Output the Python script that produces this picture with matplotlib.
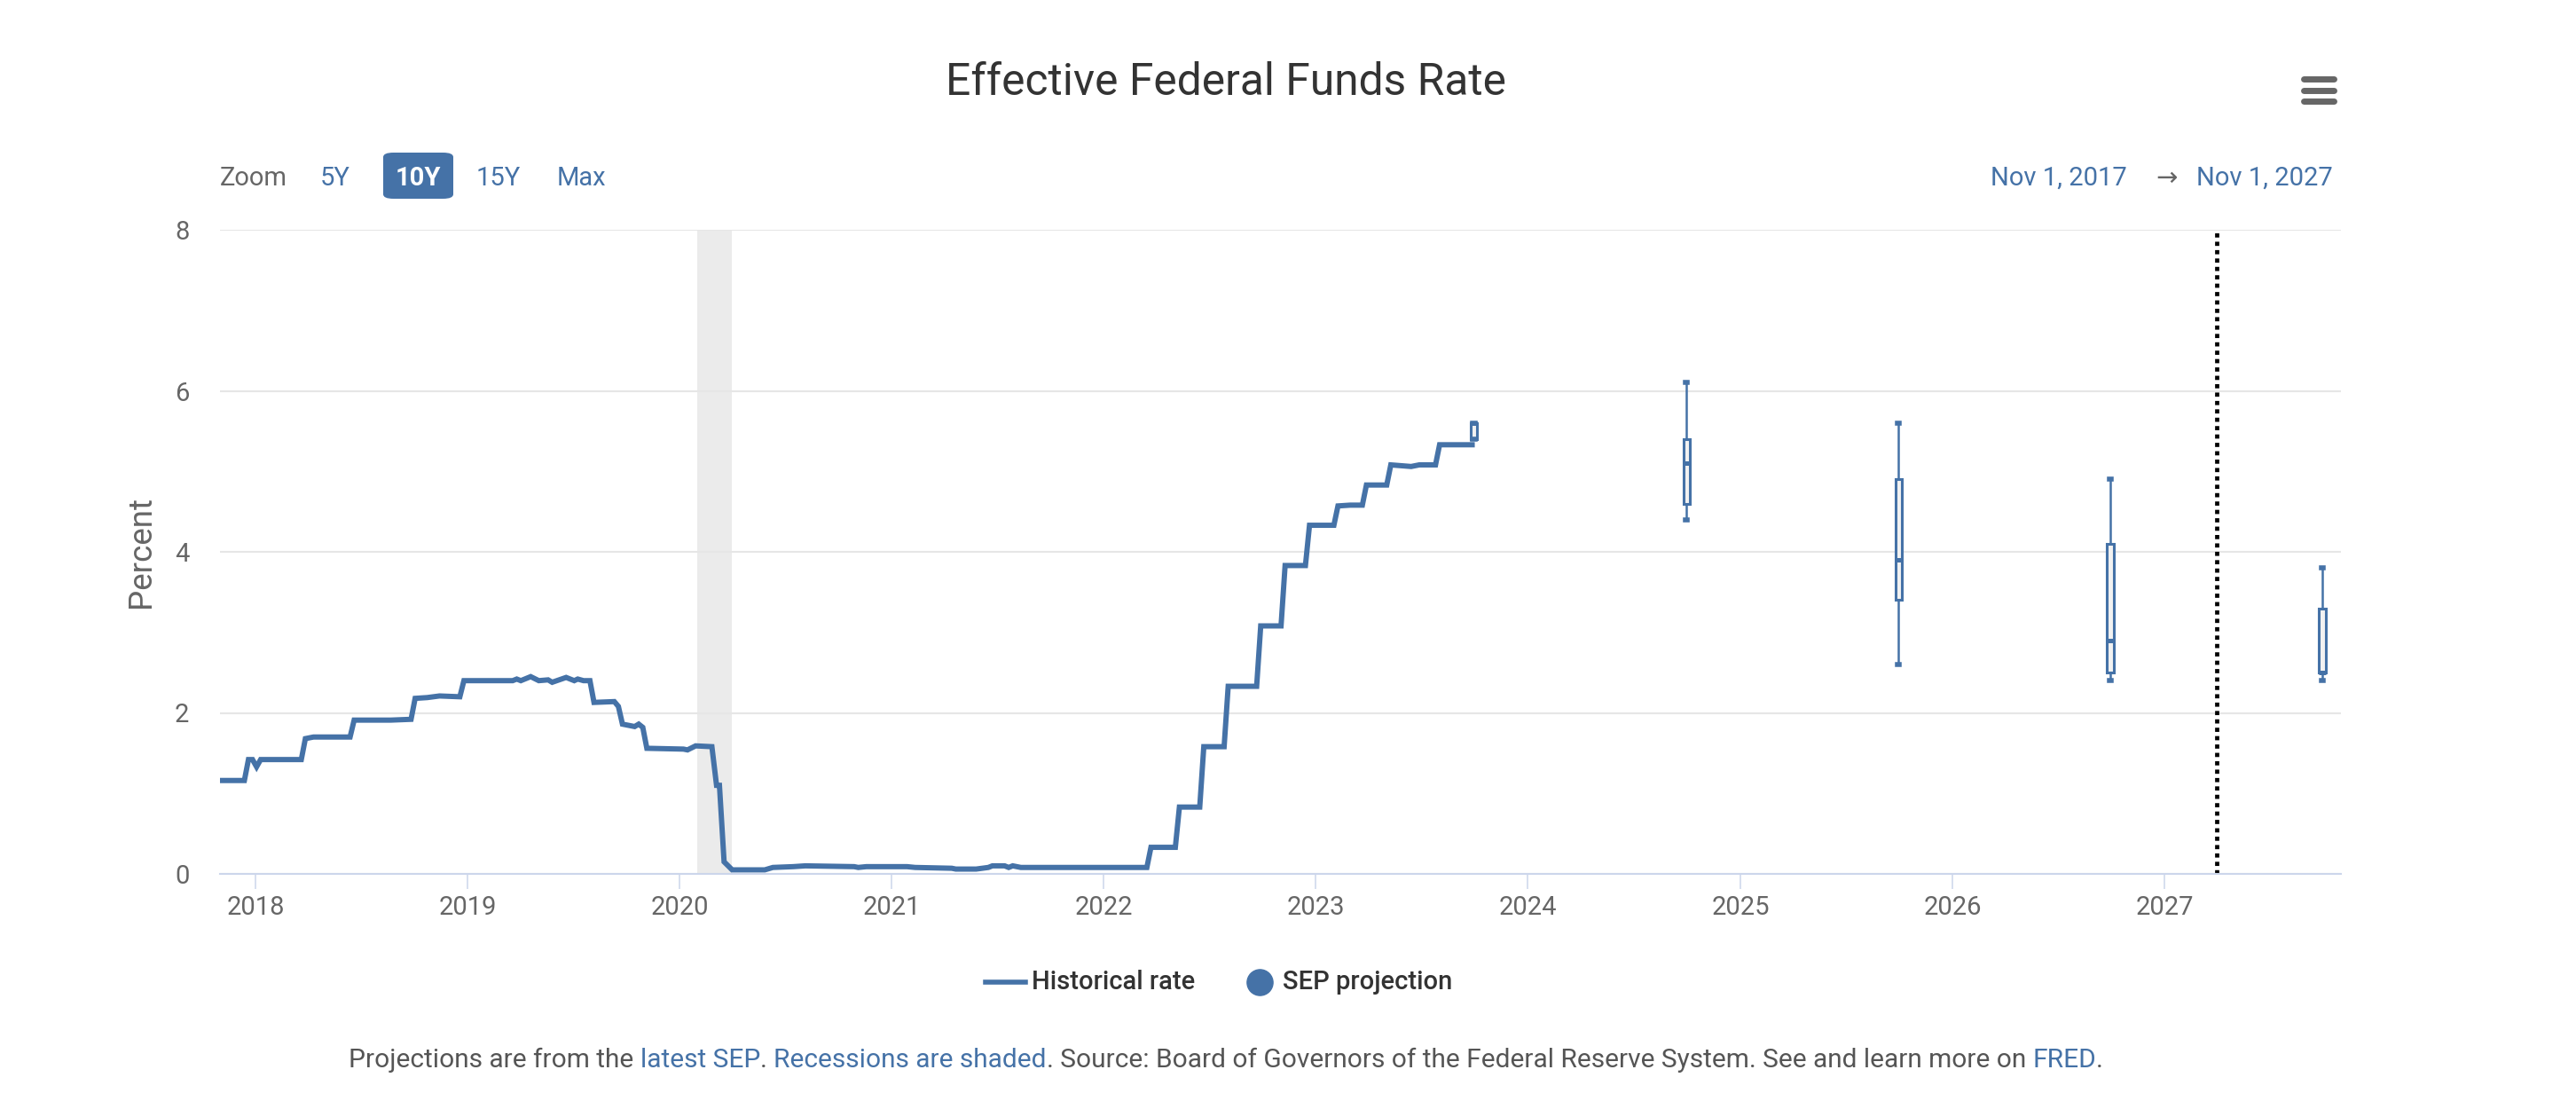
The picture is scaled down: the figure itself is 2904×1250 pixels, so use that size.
import matplotlib
matplotlib.use("Agg")
import matplotlib.pyplot as plt
import matplotlib.dates as mdates
from matplotlib.patches import FancyBboxPatch
from matplotlib.lines import Line2D
import pandas as pd

plt.rcParams['font.family'] = ['Roboto', 'DejaVu Sans']

# weekly-ish effective federal funds rate
hist_dates = [
    "2017-11-01", "2017-12-13", "2017-12-20", "2017-12-27", "2018-01-03", "2018-01-10",
    "2018-03-21", "2018-03-28", "2018-04-11", "2018-06-13", "2018-06-20", "2018-08-22",
    "2018-09-26", "2018-10-03", "2018-10-24", "2018-11-14", "2018-12-19", "2018-12-26",
    "2019-03-20", "2019-03-27", "2019-04-03", "2019-04-20", "2019-05-04", "2019-05-20",
    "2019-05-27", "2019-06-08", "2019-06-20", "2019-07-04", "2019-07-10", "2019-07-20",
    "2019-07-31", "2019-08-07", "2019-09-11", "2019-09-18", "2019-09-25", "2019-10-16",
    "2019-10-23", "2019-10-30", "2019-11-06", "2020-01-08", "2020-01-15", "2020-01-29",
    "2020-02-26", "2020-03-05", "2020-03-10", "2020-03-18", "2020-04-01", "2020-05-27",
    "2020-06-10", "2020-07-15", "2020-08-05", "2020-10-28", "2020-11-04", "2020-11-18",
    "2021-01-27", "2021-02-10", "2021-04-14", "2021-04-21", "2021-05-26", "2021-06-16",
    "2021-06-23", "2021-07-14", "2021-07-21", "2021-07-28", "2021-08-11", "2022-03-16",
    "2022-03-23", "2022-05-04", "2022-05-11", "2022-06-15", "2022-06-22", "2022-07-27",
    "2022-08-03", "2022-09-21", "2022-09-28", "2022-11-02", "2022-11-09", "2022-12-14",
    "2022-12-21", "2023-02-01", "2023-02-08", "2023-03-01", "2023-03-22", "2023-03-29",
    "2023-05-03", "2023-05-10", "2023-06-14", "2023-06-28", "2023-07-26", "2023-08-02",
    "2023-09-27",
]
hist_rate = [
    1.16, 1.16, 1.42, 1.42, 1.33, 1.42,
    1.42, 1.68, 1.70, 1.70, 1.91, 1.91,
    1.92, 2.18, 2.19, 2.21, 2.20, 2.40,
    2.40, 2.42, 2.40, 2.45, 2.40, 2.41,
    2.38, 2.41, 2.44, 2.40, 2.42, 2.40,
    2.40, 2.13, 2.14, 2.08, 1.86, 1.83,
    1.86, 1.82, 1.56, 1.55, 1.54, 1.59,
    1.58, 1.10, 1.10, 0.15, 0.05, 0.05,
    0.08, 0.09, 0.10, 0.09, 0.08, 0.09,
    0.09, 0.08, 0.07, 0.06, 0.06, 0.08,
    0.10, 0.10, 0.08, 0.10, 0.08, 0.08,
    0.33, 0.33, 0.83, 0.83, 1.58, 1.58,
    2.33, 2.33, 3.08, 3.08, 3.83, 3.83,
    4.33, 4.33, 4.57, 4.58, 4.58, 4.83,
    4.83, 5.08, 5.06, 5.08, 5.08, 5.33,
    5.33,
]

# SEP projections (range = whiskers, central tendency = box)
sep_dates = ["2023-09-30", "2024-09-30", "2025-09-30", "2026-09-30", "2027-09-30"]
sep_low = [5.4, 4.4, 2.6, 2.4, 2.4]
sep_q1 = [5.4, 4.6, 3.4, 2.5, 2.5]
sep_median = [5.6, 5.1, 3.9, 2.9, 2.5]
sep_q3 = [5.6, 5.4, 4.9, 4.1, 3.3]
sep_high = [5.6, 6.1, 5.6, 4.9, 3.8]

recession = ("2020-02-01", "2020-04-01")
marker_date = "2027-04-01"
x_start, x_end = "2017-11-01", "2027-11-01"
tick_years = list(range(2018, 2028))

BLUE = '#4572a7'
W, H = 2904, 1250


def fx(px):
    return px / W


def fy(py):
    return 1 - py / H


fig = plt.figure(figsize=(W / 100, H / 100), dpi=100)
ax = fig.add_axes([fx(248), fy(985), fx(2639) - fx(248), fy(259) - fy(985)])

ax.axvspan(pd.Timestamp(recession[0]), pd.Timestamp(recession[1]),
           color='#ebebeb', zorder=0, lw=0)

ax.plot(pd.to_datetime(hist_dates), hist_rate, color=BLUE, lw=4.3, zorder=3,
        solid_joinstyle='miter')

stats = []
for lo, q1, med, q3, hi in zip(sep_low, sep_q1, sep_median, sep_q3, sep_high):
    stats.append({'whislo': lo, 'q1': q1, 'med': med, 'q3': q3, 'whishi': hi})
pos = mdates.date2num(pd.to_datetime(sep_dates))
ax.bxp(stats, positions=pos, widths=11, capwidths=4, patch_artist=True,
       showfliers=False, manage_ticks=False,
       boxprops=dict(facecolor='#f2f2f2', edgecolor=BLUE, lw=2.2),
       medianprops=dict(color=BLUE, lw=3.6),
       whiskerprops=dict(color=BLUE, lw=1.8),
       capprops=dict(color=BLUE, lw=4),
       zorder=4)

ax.axvline(pd.Timestamp(marker_date), color='black', lw=3.4,
           linestyle=(0, (1.0, 1.0)), zorder=5)

ax.set_xlim(pd.Timestamp(x_start), pd.Timestamp(x_end))
ax.set_ylim(0, 8)
ax.set_yticks([0, 2, 4, 6, 8])
ax.set_xticks([pd.Timestamp(f"{y}-01-01") for y in tick_years])
ax.xaxis.set_major_formatter(mdates.DateFormatter('%Y'))

ax.grid(axis='y', color='#e6e6e6', lw=1.5)
ax.set_axisbelow(True)
for s in ['top', 'right', 'left']:
    ax.spines[s].set_visible(False)
ax.spines['bottom'].set_color('#ccd6eb')
ax.spines['bottom'].set_linewidth(1.5)
ax.spines['bottom'].set_zorder(6)
ax.tick_params(axis='x', direction='out', length=12, width=1.1, color='#ccd6eb',
               labelsize=21, labelcolor='#666666', pad=5)
ax.tick_params(axis='y', length=0, labelsize=21, labelcolor='#666666', pad=25)
ax.set_ylabel('Percent', fontsize=26.5, color='#666666', labelpad=14)

# title and menu icon
fig.text(fx(1382), fy(93), 'Effective Federal Funds Rate', fontsize=35.8,
         color='#333333', ha='center', va='center')
for by in [89, 102, 114]:
    fig.add_artist(Line2D([fx(2597), fx(2631)], [fy(by), fy(by)], color='#666666',
                          lw=5, solid_capstyle='round'))

# zoom buttons
zy = fy(201)
fig.text(fx(248), zy, 'Zoom', fontsize=21, color='#666666', va='center')
fig.text(fx(361), zy, '5Y', fontsize=21, color=BLUE, va='center')
fig.add_artist(FancyBboxPatch((fx(432), fy(224)), fx(511) - fx(432), fy(172) - fy(224),
                              boxstyle='round,pad=0,rounding_size=0.004',
                              transform=fig.transFigure, facecolor=BLUE, edgecolor='none'))
fig.text(fx(471.5), zy, '10Y', fontsize=21, color='white', weight='bold',
         ha='center', va='center')
fig.text(fx(537), zy, '15Y', fontsize=21, color=BLUE, va='center')
fig.text(fx(628), zy, 'Max', fontsize=21, color=BLUE, va='center')

# date range
fig.text(fx(2398), zy, 'Nov 1, 2017', fontsize=21, color=BLUE, ha='right', va='center')
fig.text(fx(2443), zy, '\u2192', fontsize=21, color='#666666', ha='center', va='center')
fig.text(fx(2630), zy, 'Nov 1, 2027', fontsize=21, color=BLUE, ha='right', va='center')

# legend
ly = fy(1107)
fig.add_artist(Line2D([fx(1111), fx(1156)], [ly, ly], color=BLUE, lw=4))
fig.text(fx(1163), ly, 'Historical rate', fontsize=21, color='#333333',
         weight='medium', va='center')
fig.add_artist(Line2D([fx(1420)], [ly], marker='o', markersize=21, color=BLUE, lw=0))
fig.text(fx(1446), ly, 'SEP projection', fontsize=21, color='#333333',
         weight='medium', va='center')

# footer with coloured links
parts = [
    ('Projections are from the ', '#555555'),
    ('latest SEP', BLUE),
    ('. ', '#555555'),
    ('Recessions are shaded', BLUE),
    ('. Source: Board of Governors of the Federal Reserve System. See and learn more on ', '#555555'),
    ('FRED', BLUE),
    ('.', '#555555'),
]
FOOT_SIZE = 21.5
renderer = fig.canvas.get_renderer()


def text_width(s):
    t = fig.text(0, 0, s + '|', fontsize=FOOT_SIZE)
    bar = fig.text(0, 0, '|', fontsize=FOOT_SIZE)
    w = t.get_window_extent(renderer).width - bar.get_window_extent(renderer).width
    t.remove()
    bar.remove()
    return w


total = text_width(''.join(p[0] for p in parts))
x = 1382 - total / 2
for s, c in parts:
    fig.text(fx(x), fy(1195), s, fontsize=FOOT_SIZE, color=c, va='center')
    x += text_width(s)

fig.savefig('out.png', dpi=100)
